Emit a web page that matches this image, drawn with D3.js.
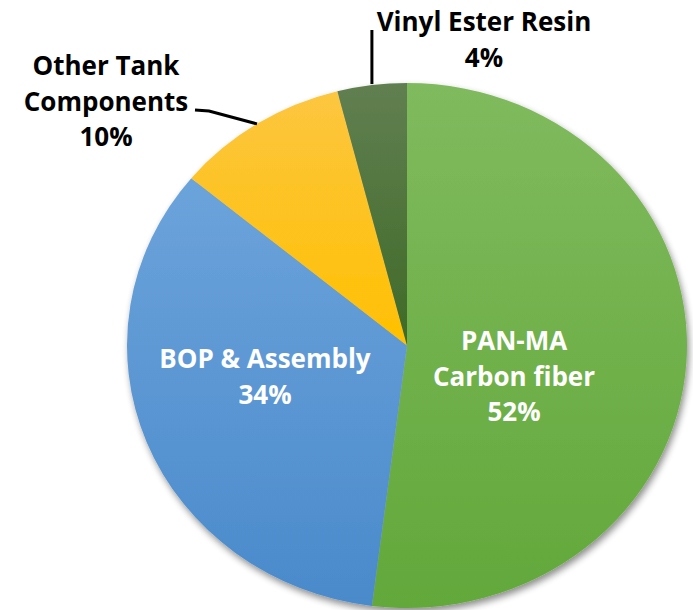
<!DOCTYPE html>
<html>
<head>
<meta charset="utf-8">
<script src="https://cdn.jsdelivr.net/npm/d3@7"></script>
<style>
  html, body { margin: 0; padding: 0; background: #fff; }
  svg { display: block; }
  text { font-family: "Open Sans", Lato, sans-serif; font-weight: 700; }
</style>
</head>
<body>
<svg id="chart" width="693" height="610"></svg>
<script>
// Cost share of a compressed hydrogen tank
const categories = ["PAN-MA Carbon fiber", "BOP & Assembly", "Other Tank Components", "Vinyl Ester Resin"];
const shares = [52, 34, 10, 4];
const labelLines = [
  ["PAN-MA", "Carbon fiber", "52%"],
  ["BOP & Assembly", "34%"],
  ["Other Tank", "Components", "10%"],
  ["Vinyl Ester Resin", "4%"]
];
// gradient colours per slice: [top, bottom]
const sliceColors = [
  ["#80ba5e", "#62a83a"],
  ["#6ca3db", "#4a8acb"],
  ["#fcc640", "#ffc000"],
  ["#617f51", "#3f6a27"]
];

const W = 693, H = 610;
const cx = 407, cy = 345.5, rx = 280, ry = 262.5;

const svg = d3.select("#chart");
const defs = svg.append("defs");

const shadow = defs.append("filter").attr("id", "pieShadow")
  .attr("x", "-10%").attr("y", "-10%").attr("width", "120%").attr("height", "120%");
shadow.append("feGaussianBlur").attr("in", "SourceAlpha").attr("stdDeviation", 3.5).attr("result", "blur");
shadow.append("feOffset").attr("in", "blur").attr("dx", 2).attr("dy", 4).attr("result", "off");
shadow.append("feComponentTransfer").attr("in", "off").attr("result", "shade")
  .append("feFuncA").attr("type", "linear").attr("slope", 0.45);
const merge = shadow.append("feMerge");
merge.append("feMergeNode").attr("in", "shade");
merge.append("feMergeNode").attr("in", "SourceGraphic");

sliceColors.forEach((c, i) => {
  const g = defs.append("linearGradient").attr("id", "grad" + i)
    .attr("x1", 0).attr("y1", 0).attr("x2", 0).attr("y2", 1);
  g.append("stop").attr("offset", "0%").attr("stop-color", c[0]);
  g.append("stop").attr("offset", "100%").attr("stop-color", c[1]);
});

const pie = d3.pie().sort(null).value(d => d);
const arcs = pie(shares);
const arc = d3.arc().innerRadius(0).outerRadius(ry);

// slightly wider than tall, as in the original sheet
const sx = rx / ry;
const pieG = svg.append("g")
  .attr("filter", "url(#pieShadow)")
  .attr("transform", `translate(${cx},${cy}) scale(${sx},1)`);

pieG.selectAll("path")
  .data(arcs)
  .join("path")
  .attr("d", arc)
  .attr("fill", (d, i) => `url(#grad${i})`);

// point on the rim at a slice's mid angle
function rimPoint(d) {
  const a = (d.startAngle + d.endAngle) / 2;
  return [cx + Math.sin(a) * rx, cy - Math.cos(a) * ry];
}

// label anchors: centre x and first baseline
const labelLayout = [
  { x: 514, y: 350, fill: "#fff" },
  { x: 265, y: 368, fill: "#fff" },
  { x: 106, y: 75, fill: "#000" },
  { x: 484, y: 31, fill: "#000" }
];
const lineGap = 35.5;

// leader lines for the two outside labels
const line = d3.line();
const otherRim = rimPoint(arcs[2]);
svg.append("path")
  .attr("d", line([[195, 110], [209, 111], otherRim]))
  .attr("fill", "none").attr("stroke", "#000").attr("stroke-width", 3);
const vinylRim = rimPoint(arcs[3]);
svg.append("path")
  .attr("d", line([[vinylRim[0], 30], [vinylRim[0], vinylRim[1] - 1]]))
  .attr("fill", "none").attr("stroke", "#000").attr("stroke-width", 3);

labelLines.forEach((lines, i) => {
  const L = labelLayout[i];
  const t = svg.append("text")
    .attr("text-anchor", "middle")
    .attr("font-size", 26)
    .attr("fill", L.fill);
  lines.forEach((s, j) => {
    t.append("tspan").attr("x", L.x).attr("y", L.y + j * lineGap).text(s);
  });
});
</script>
</body>
</html>
